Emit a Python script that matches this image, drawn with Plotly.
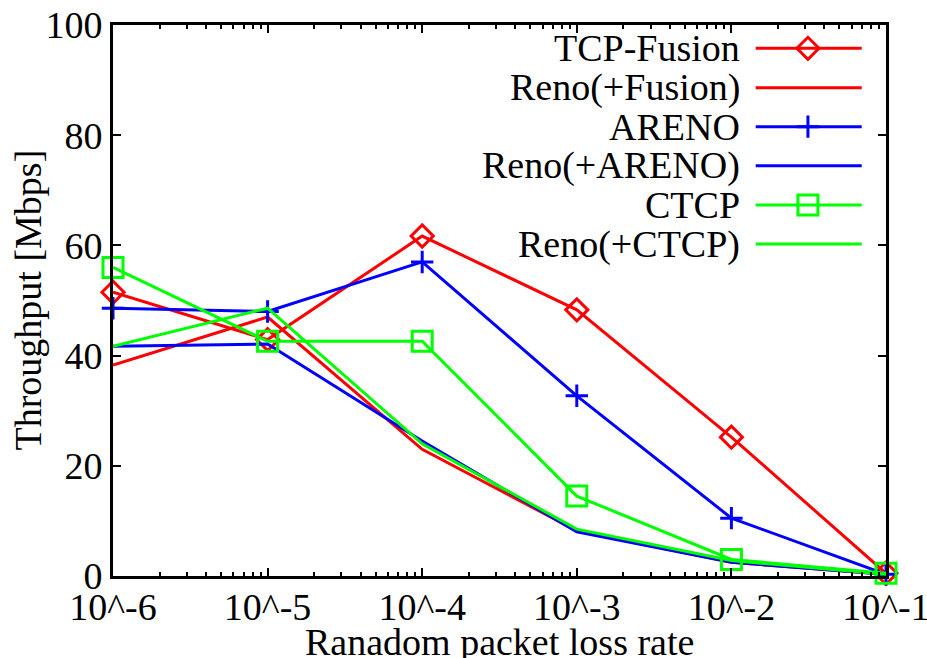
import plotly.graph_objects as go

# Random packet loss rate (log scale) and measured throughput [Mbps]
loss_rate = [1e-6, 1e-5, 1e-4, 1e-3, 1e-2, 1e-1]
tick_labels = ["10^-6", "10^-5", "10^-4", "10^-3", "10^-2", "10^-1"]

tcp_fusion = [51.5, 42.9, 61.7, 48.3, 25.2, 0.5]
reno_fusion = [38.3, 47.0, 23.0, 8.2, 2.5, 0.3]
areno = [48.6, 48.0, 57.0, 32.7, 10.5, 0.3]
reno_areno = [41.7, 42.1, 24.5, 8.0, 2.5, 0.3]
ctcp = [56.0, 42.6, 42.6, 14.5, 3.0, 0.5]
reno_ctcp = [41.7, 48.6, 24.0, 8.5, 2.8, 0.3]

RED, BLUE, GREEN = "#ff0000", "#0000ff", "#00ff00"
FONT = "Liberation Serif"
FS = 38
LW = 3


def mk(symbol, size, color):
    return dict(symbol=symbol, size=size, color=color, line=dict(width=LW, color=color))


series = [
    ("TCP-Fusion", tcp_fusion, RED, mk("diamond-open", 17, RED)),
    ("Reno(+Fusion)", reno_fusion, RED, None),
    ("ARENO", areno, BLUE, mk("cross-thin-open", 16, BLUE)),
    ("Reno(+ARENO)", reno_areno, BLUE, None),
    ("CTCP", ctcp, GREEN, mk("square-open", 20, GREEN)),
    ("Reno(+CTCP)", reno_ctcp, GREEN, None),
]

fig = go.Figure()
for name, vals, color, marker in series:
    fig.add_trace(go.Scatter(
        x=loss_rate, y=vals, name=name,
        mode="lines+markers" if marker else "lines",
        line=dict(color=color, width=LW),
        marker=marker, cliponaxis=False, showlegend=False,
    ))

# Key drawn in gnuplot style: label, then line sample with symbol on the right
row_y = [0.9577, 0.886, 0.8155, 0.7447, 0.6733, 0.6025]
x0, xm, x1, xtext = 0.8314, 0.899, 0.9686, 0.8137
annotations = []
for (name, vals, color, marker), ry in zip(series, row_y):
    fig.add_trace(go.Scatter(
        x=[x0, x1], y=[ry, ry], mode="lines", xaxis="x2", yaxis="y2",
        line=dict(color=color, width=LW), showlegend=False, hoverinfo="skip",
        cliponaxis=False,
    ))
    if marker:
        fig.add_trace(go.Scatter(
            x=[xm], y=[ry], mode="markers", xaxis="x2", yaxis="y2",
            marker=marker, showlegend=False, hoverinfo="skip", cliponaxis=False,
        ))
    annotations.append(dict(
        x=xtext, y=ry, xref="paper", yref="paper", text=name, showarrow=False,
        xanchor="right", yanchor="middle", font=dict(family=FONT, size=FS, color="black"),
    ))

annotations.append(dict(
    x=0.5, y=0, xref="paper", yref="paper", text="Ranadom packet loss rate",
    showarrow=False, xanchor="center", yanchor="middle", yshift=-66,
    font=dict(family=FONT, size=FS, color="black"),
))
annotations.append(dict(
    x=0, y=0.5, xref="paper", yref="paper", text="Throughput [Mbps]",
    showarrow=False, xanchor="center", yanchor="middle", xshift=-86, textangle=-90,
    font=dict(family=FONT, size=FS, color="black"),
))

minor_vals = [m * 10 ** e for e in range(-6, -1) for m in range(2, 10)]

fig.update_layout(
    width=927, height=658,
    margin=dict(l=113, r=41, t=25, b=82),
    paper_bgcolor="white", plot_bgcolor="white",
    font=dict(family=FONT, size=FS, color="black"),
    showlegend=False,
    annotations=annotations,
    xaxis=dict(
        type="log", range=[-6.00001, -0.99999], tickvals=loss_rate, ticktext=tick_labels,
        showline=True, linecolor="black", linewidth=3, mirror="allticks",
        ticks="inside", ticklen=8, tickwidth=2, tickcolor="black",
        showgrid=False, zeroline=False, automargin=False,
        ticklabeloverflow="allow", ticklabelstandoff=-5,
        minor=dict(tickvals=minor_vals, ticks="inside", ticklen=4, tickwidth=2,
                   tickcolor="black", showgrid=False),
        tickfont=dict(family=FONT, size=FS, color="black"),
    ),
    yaxis=dict(
        range=[0, 100], tickvals=[0, 20, 40, 60, 80, 100],
        showline=True, linecolor="black", linewidth=3, mirror="allticks",
        ticks="inside", ticklen=8, tickwidth=2, tickcolor="black",
        showgrid=False, zeroline=False, ticklabelstandoff=0, automargin=False,
        ticklabeloverflow="allow",
        tickfont=dict(family=FONT, size=FS, color="black"),
    ),
    xaxis2=dict(overlaying="x", range=[0, 1], visible=False),
    yaxis2=dict(overlaying="y", range=[0, 1], visible=False),
)

fig.write_html("out.html")
